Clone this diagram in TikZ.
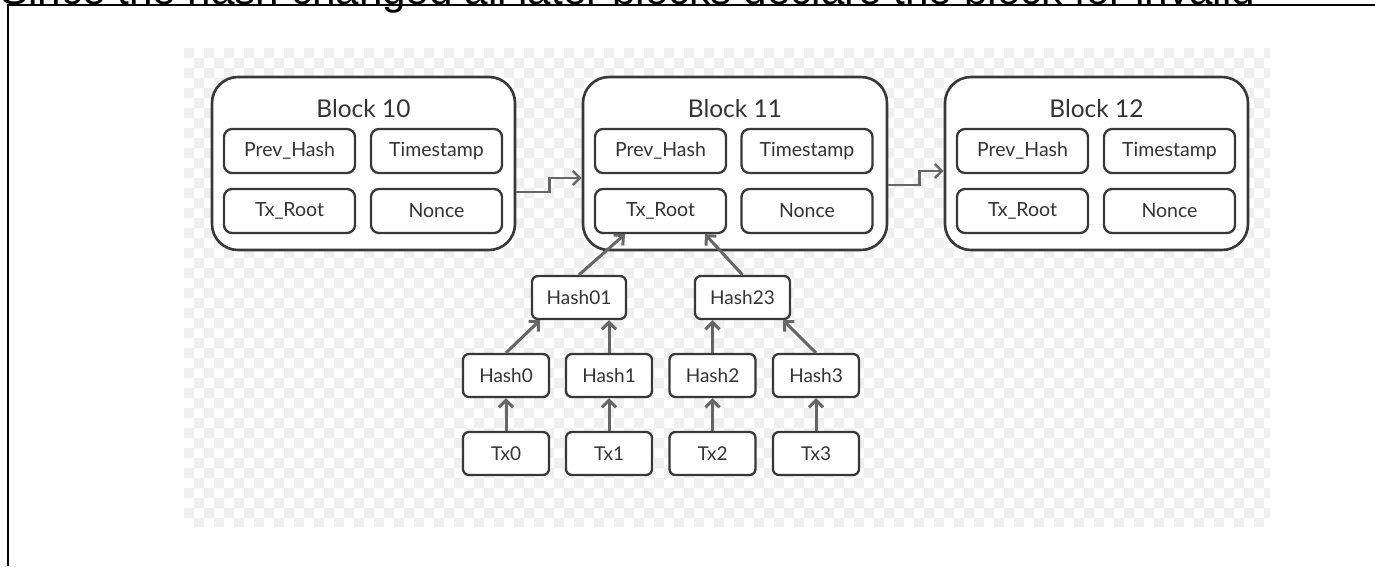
\documentclass[tikz,border=0pt]{standalone}
\usepackage{fontspec}
\setmainfont{Lato}
\newfontfamily\arialf{Liberation Sans}
\usetikzlibrary{arrows.meta,calc}
\definecolor{boxline}{HTML}{383838}
\definecolor{arrowc}{HTML}{666666}
\definecolor{checkc}{HTML}{EFEFEF}
\definecolor{txtc}{HTML}{333333}
\tikzset{
 blockbox/.style={draw=boxline, line width=2.6pt, rounded corners=26pt, fill=white, minimum width=303pt, minimum height=173pt, inner sep=0pt},
 fieldbox/.style={draw=boxline, line width=2.3pt, rounded corners=8pt, fill=white, minimum width=131pt, minimum height=44pt, inner sep=0pt, text=txtc, font=\fontsize{19.5}{22}\selectfont},
 treebox/.style={draw=boxline, line width=2.3pt, rounded corners=6pt, fill=white, minimum width=86pt, minimum height=43pt, inner sep=0pt, text=txtc, font=\fontsize{19}{22}\selectfont},
 titletext/.style={text=txtc, font=\fontsize{24.5}{28}\selectfont, inner sep=0pt, anchor=base},
 link/.style={draw=arrowc, line width=3pt, -{Straight Barb[length=7pt,width=14pt]}},
}
\begin{document}
\begin{tikzpicture}[x=1pt,y=-1pt]
\useasboundingbox (0,0) rectangle (1375,566);
\fill[white] (0,0) rectangle (1375,566);
% checkerboard background
\begin{scope}
\clip (184,48) rectangle (1270,526);
\fill[checkc] \foreach \j in {0,...,47}{ \foreach \i in {0,2,...,108}{ ({184+10*\i+10*mod(\j,2)},{48+10*\j}) rectangle ++(10,10) } };
\end{scope}
% caption and frame
\node[anchor=base west, inner sep=0pt, font=\arialf\fontsize{42.2}{48}\selectfont] (caption) at (0,4) {Since the hash changed all later blocks declare the block for invalid};
\draw[black, line width=2pt] (8,566) -- (8,5) -- (1375,5);
% blocks
\node[blockbox] (b10) at (363.5,163.5) {};
\node[blockbox, minimum width=304pt] (b11) at (735,163.5) {};
\node[blockbox] (b12) at (1096.5,163.5) {};
\node[titletext] (b10t) at (363.5,117.7) {Block 10};
\node[titletext] (b11t) at (735,117.7) {Block 11};
\node[titletext] (b12t) at (1096.5,117.7) {Block 12};
% fields
\node[fieldbox] (b10ph) at (289.5,151) {Prev\_Hash};
\node[fieldbox] (b10ts) at (436.5,151) {Timestamp};
\node[fieldbox] (b10tx) at (289.5,211) {Tx\_Root};
\node[fieldbox] (b10no) at (436.5,211) {Nonce};
\node[fieldbox] (b11ph) at (660.5,151) {Prev\_Hash};
\node[fieldbox] (b11ts) at (807,151) {Timestamp};
\node[fieldbox] (b11tx) at (660.5,211) {Tx\_Root};
\node[fieldbox] (b11no) at (807,211) {Nonce};
\node[fieldbox] (b12ph) at (1022.5,151) {Prev\_Hash};
\node[fieldbox] (b12ts) at (1169.5,151) {Timestamp};
\node[fieldbox] (b12tx) at (1022.5,211) {Tx\_Root};
\node[fieldbox] (b12no) at (1169.5,211) {Nonce};
% merkle tree
\node[treebox, minimum width=94pt] (h01) at (579,297.5) {Hash01};
\node[treebox, minimum width=95pt] (h23) at (742.5,297.5) {Hash23};
\node[treebox] (h0) at (506,375.5) {Hash0};
\node[treebox] (h1) at (609,375.5) {Hash1};
\node[treebox] (h2) at (712.5,375.5) {Hash2};
\node[treebox] (h3) at (816,375.5) {Hash3};
\node[treebox] (tx0) at (506,453.5) {Tx0};
\node[treebox] (tx1) at (609,453.5) {Tx1};
\node[treebox] (tx2) at (712.5,453.5) {Tx2};
\node[treebox] (tx3) at (816,453.5) {Tx3};
% chain links
\draw[link, line width=2.6pt] ($(b10.east)+(0,28.5)$) -- ++(33,0) |- ($(b11.west)+(0,14.5)$);
\draw[link, line width=2.6pt] ($(b11.east)+(0,21.5)$) -- ++(31,0) |- ($(b12.west)+(0,7.5)$);
% tree links
\draw[link] (tx0) -- (h0);
\draw[link] (tx1) -- (h1);
\draw[link] (tx2) -- (h2);
\draw[link] (tx3) -- (h3);
\draw[link] (h0.north) -- ($(h01.south)+(-39,0)$);
\draw[link] (h1.north) -- (h1.north |- h01.south);
\draw[link] (h2.north) -- (h2.north |- h23.south);
\draw[link] (h3.north) -- ($(h23.south)+(40.5,0)$);
\draw[link] (h01.north) -- ($(b11tx.south)+(-35.5,0)$);
\draw[link] (h23.north) -- ($(b11tx.south)+(44.5,0)$);
\end{tikzpicture}
\end{document}
